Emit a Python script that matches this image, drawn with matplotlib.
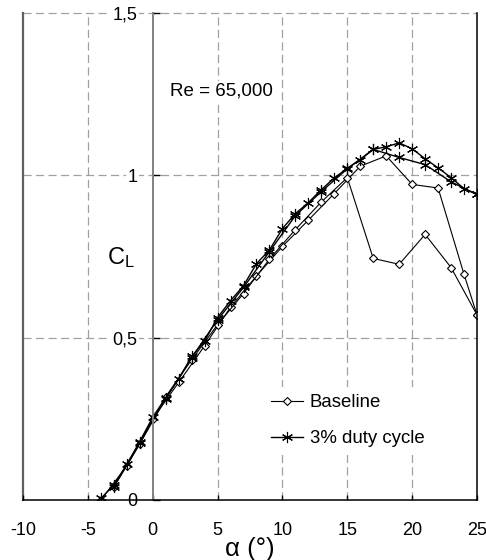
import numpy as np
import matplotlib
matplotlib.use("Agg")
import matplotlib.pyplot as plt

plt.rcParams['font.family'] = ['Liberation Sans', 'DejaVu Sans']
plt.rcParams['mathtext.fontset'] = 'custom'
plt.rcParams['mathtext.rm'] = 'Liberation Sans'
plt.rcParams['mathtext.it'] = 'Liberation Sans'

#--------------data-------------
alpha = list(range(-4, 26))
cl_base = [0.000, 0.040, 0.105, 0.172, 0.250, 0.318, 0.362, 0.432, 0.475, 0.540,
           0.594, 0.636, 0.690, 0.742, 0.781, 0.833, 0.862, 0.918, 0.944, 0.993,
           1.028, 0.744, 1.060, 0.726, 0.972, 0.818, 0.961, 0.716, 0.695, 0.570]

# 3% duty cycle, first sweep (every degree)
cl_dc1 = [0.005, 0.045, 0.110, 0.180, 0.255, 0.315, 0.372, 0.442, 0.490, 0.562,
          0.614, 0.660, 0.728, 0.770, 0.836, 0.882, 0.916, 0.956, 0.992, 1.022,
          1.048, 1.080, 1.088, 1.100, 1.082, 1.051, 1.023, 0.993, 0.959, 0.941]
# 3% duty cycle, second sweep (odd angles)
alpha_odd = list(range(-3, 26, 2))
cl_dc2 = [0.040, 0.175, 0.312, 0.438, 0.555, 0.655, 0.765, 0.876, 0.950, 1.020,
          1.080, 1.055, 1.033, 0.980, 0.941]

xticks = [-10, -5, 0, 5, 10, 15, 20, 25]
yticks = [0, 0.5, 1, 1.5]
ylabels = ['0', '0,5', '1', '1,5']

#--------------------draw---------------------
fig = plt.figure(figsize=(4.86, 5.6), dpi=100)
ax = fig.add_axes([23/486, 1-500/560, 454/486, 487/560])
ax.set_xlim(-10, 25)
ax.set_ylim(0, 1.5)

# grid
for xv in [-5, 5, 10, 15, 20]:
    ax.axvline(xv, color='#a0a0a0', lw=0.9, ls=(0, (6.5, 3.5)), zorder=0)
for yv in [0.5, 1, 1.5]:
    ax.axhline(yv, color='#a0a0a0', lw=0.9, ls=(0, (6.5, 3.5)), zorder=0, clip_on=False)
ax.axvline(-10, color='#606060', lw=1.6, zorder=1, clip_on=False)

ax.spines['top'].set_visible(False)
ax.spines['left'].set_position(('data', 0))
ax.spines['left'].set_color('#808080')
ax.spines['left'].set_linewidth(1.4)
ax.spines['right'].set_linewidth(1.1)
ax.spines['bottom'].set_linewidth(1.1)

ax.set_xticks(xticks)
ax.set_xticklabels([str(v) for v in xticks])
ax.set_yticks(yticks)
ax.set_yticklabels(ylabels)
ax.tick_params(axis='x', direction='in', length=3.8, width=1, pad=16, labelsize=13)
ax.tick_params(axis='y', direction='in', length=5, width=1, pad=11, labelsize=13)
for lab in ax.get_yticklabels():
    lab.set_bbox(dict(facecolor='white', edgecolor='none', pad=1))

alpha_arr = np.array(alpha)
base_arr = np.array(cl_base)
even = (alpha_arr % 2 == 0) | (alpha_arr == 25)
odd = alpha_arr % 2 != 0

dkw = dict(color='black', lw=0.8, marker='D', ms=4.2, mfc='white', mec='black', mew=0.8)
skw = dict(color='black', lw=1.0, marker=(6, 2, 0), ms=8, mec='black', mew=0.8)

ax.plot(alpha_arr[even], base_arr[even], label='Baseline', **dkw)
ax.plot(alpha_arr[odd], base_arr[odd], **dkw)
ax.plot(alpha, cl_dc1, label='3% duty cycle', **skw)
ax.plot(alpha_odd, cl_dc2, **skw)

ax.text(1.35, 1.259, 'Re = 65,000', fontsize=13.5, va='center', ha='left',
        bbox=dict(facecolor='white', edgecolor='none', pad=1))
ax.text(-3.5, 0.748, r'$\mathrm{C_L}$', fontsize=17, va='center', ha='left')
ax.set_xlabel('α (°)', fontsize=18.5, labelpad=-1.5)

leg = ax.legend(loc='upper left', bbox_to_anchor=(264/486, 1-387/560),
                bbox_transform=fig.transFigure, borderaxespad=0, borderpad=0.4,
                handlelength=1.7, handletextpad=0.35, labelspacing=1.0,
                fontsize=13.4, frameon=True, fancybox=False)
leg.get_frame().set_facecolor('white')
leg.get_frame().set_edgecolor('none')
leg.get_frame().set_alpha(1)

fig.savefig('out.png', dpi=100)
